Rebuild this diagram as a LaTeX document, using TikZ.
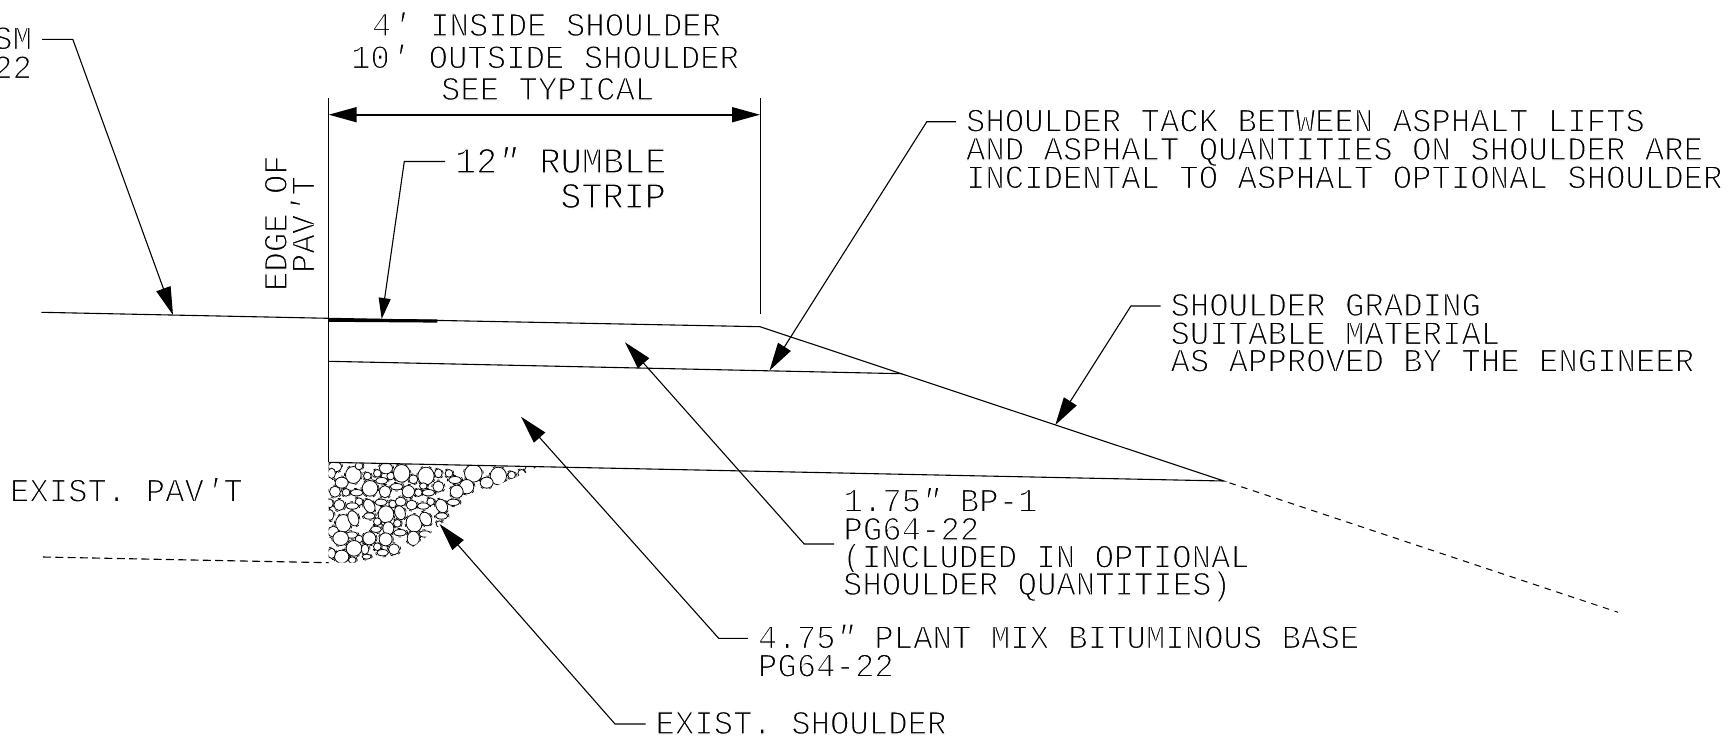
\documentclass[tikz,border=0pt]{standalone}
\usepackage{fontspec}
\setmainfont[FakeStretch=0.965]{Liberation Mono}
\usetikzlibrary{arrows.meta,calc}
\newcommand{\thinglyphs}{\special{pdf:code 2 Tr 1 1 1 RG 1.1 w}}
\newcommand{\ftp}{{\itshape ′}}
\newcommand{\inch}{{\itshape ″}}
\tikzset{
  lbl/.style={font=\fontsize{33.5}{33.5}\selectfont,inner sep=0pt,outer xsep=10pt,text height=20pt,text depth=0pt,anchor=base west,execute at begin node=\thinglyphs},
  biglbl/.style={lbl,font=\fontsize{36.5}{36.5}\selectfont,text height=23pt},
  rotlbl/.style={lbl,outer xsep=0pt,rotate=90},
  thinline/.style={line width=1.1pt,black},
  extline/.style={line width=0.9pt,black},
  dimline/.style={line width=1.6pt,black,{Triangle[length=28pt,width=15pt]}-{Triangle[length=28pt,width=15pt]}},
  leader/.style={line width=1.1pt,black,-{Triangle[length=28pt,width=15pt]}},
  shortleader/.style={leader,-{Triangle[length=21pt,width=12pt]}},
  gravel/.style={line width=0.8pt,black,fill=white},
  interstice/.style={line width=0.7pt,black,dash pattern=on 3pt off 6pt}
}
\newcommand{\stones}{75/50/18/14/0,130/75/22/24/0,172/78/10/10/0,147/48/10/10/0,202/70/10/10/0,242/78/10/10/0,228/55/18/15/0,275/70/23/25/0,310/88/12/12/0,348/78/23/25/0,385/70/10/12/0,417/70/10/10/0,435/90/18/9/0,490/70/25/25/0,565/78/23/25/0,605/75/10/10/0,635/70/10/10/0,660/60/15/12/0,530/98/18/15/0,470/110/20/20/0,440/125/18/18/0,385/110/15/15/0,355/128/18/8/0,325/128/10/10/0,295/125/17/17/0,260/110/18/8/0,225/125/15/17/0,180/115/22/22/0,140/128/18/8/0,108/127/10/10/0,75/125/15/15/0,95/98/18/15/0,65/70/10/14/0,215/92/17/8/0,340/108/10/8/0,147/155/10/10/0,127/168/18/8/0,178/168/14/20/30,213/157/17/8/0,248/162/10/10/0,272/155/15/12/0,305/165/15/13/0,340/168/17/8/0,362/155/10/10/0,395/168/15/20/30,430/157/18/8/0,88/165/15/15/0,60/160/8/12/0,100/220/22/25/0,130/205/14/22/20,60/195/10/15/0,70/245/15/15/0,228/193/22/24/0,270/188/14/20/20,178/198/16/8/0,202/215/10/10/0,235/235/15/18/0,262/220/10/10/0,312/220/22/25/20,347/207/15/20/30,395/198/17/8/0,388/222/8/8/0,198/238/15/8/0,178/265/18/18/0,125/255/17/8/0,147/267/10/10/0,92/265/22/20/0,132/295/22/22/0,227/268/18/18/0,270/248/18/8/0,310/265/17/20/0,345/252/17/8/0,202/290/10/10/0,165/298/10/14/0,218/308/16/8/0,252/298/15/15/0,95/320/20/18/0,127/330/10/8/0,65/310/10/14/0,170/320/12/6/0}
\begin{document}
\begin{tikzpicture}[x=1pt,y=-1pt]
\useasboundingbox (0,0) rectangle (1730,750);
% key points
\coordinate (roadL) at (41.4,312.3);
\coordinate (edgeTop) at (328.7,98.3);
\coordinate (edgeRoad) at (328.7,318.3);
\coordinate (edgeMid) at (328.7,361.3);
\coordinate (edgeLow) at (328.7,462.3);
\coordinate (rightTop) at (760,98.3);
\coordinate (rightEnd) at (760,314.3);
\coordinate (hinge) at (760,326.7);
\coordinate (midEnd) at (902,373.7);
\coordinate (toe) at (1224,481);
\coordinate (slopeEnd) at (1618,612.3);
\coordinate (dashL) at (43,557);
\coordinate (dashR) at (328.7,562.7);
\coordinate (dimL) at (328.7,114.7);
\coordinate (dimR) at (760,114.7);
\coordinate (stripE) at (437.4,321);
\coordinate (stripW) at (328.7,320.2);
% gravel
\begin{scope}
\clip (328.5,462.8) -- (538,466.7) .. controls (512,480) and (482,490) .. (467,501.7) .. controls (455,512) and (447,520) .. (438,526.7) .. controls (425,538) and (415,546) .. (405,552) .. controls (390,558) and (375,562) .. (357,562.5) -- (328.5,562.5) -- cycle;
\foreach \x/\y/\a/\b/\r in \stones
  \draw[interstice] (310+\x/3,450+\y/3) ellipse [x radius={(\a+5)*0.3333pt},y radius={(\b+5)*0.3333pt},rotate=\r];
\foreach \x/\y/\a/\b/\r in \stones
  \draw[gravel] (310+\x/3,450+\y/3) ellipse [x radius={(\a+1.5)*0.3333pt},y radius={(\b+1.5)*0.3333pt},rotate=\r];
\end{scope}
% structure lines
\draw[thinline] (roadL) -- (edgeRoad) -- (hinge) -- (toe) -- (edgeLow);
\draw[extline] (edgeLow) -- (edgeTop);
\draw[thinline] (edgeMid) -- (midEnd);
\draw[extline] (rightTop) -- (rightEnd);
\draw[line width=3.2pt] (stripW) -- (stripE);
\draw[line width=1pt,dash pattern=on 6.5pt off 5.8pt,dash phase=6.5pt] (toe) -- (slopeEnd);
\draw[line width=1.1pt,dash pattern=on 8pt off 4.3pt] (dashL) -- (dashR);
\draw[dimline] (dimL) -- (dimR);
% labels
\node[lbl,anchor=base east] (sm) at (42,49.3) {SM};
\node[lbl,anchor=base east] at (42,78.3) {22};
\node[lbl] at (362,36) {4\ftp{} INSIDE SHOULDER};
\node[lbl] at (341,68.3) {10\ftp{} OUTSIDE SHOULDER};
\node[lbl] at (431,100) {SEE TYPICAL};
\node[biglbl] (rumble) at (445,173) {12\inch{} RUMBLE};
\node[biglbl,anchor=base east] at (676,208) {STRIP};
\node[rotlbl] at (286.8,291) {EDGE OF};
\node[rotlbl] at (314.4,273) {PAV\ftp{}T};
\node[lbl] (tack) at (956,131.7) {SHOULDER TACK BETWEEN ASPHALT LIFTS};
\node[lbl] at (956,160) {AND ASPHALT QUANTITIES ON SHOULDER ARE};
\node[lbl] at (956,188.3) {INCIDENTAL TO ASPHALT OPTIONAL SHOULDER};
\node[lbl] (grade) at (1160.5,316) {SHOULDER GRADING};
\node[lbl] at (1160.5,344.3) {SUITABLE MATERIAL};
\node[lbl] at (1160.5,371.7) {AS APPROVED BY THE ENGINEER};
\node[lbl] at (0,501.7) {EXIST. PAV\ftp{}T};
\node[lbl] at (833.5,511.7) {1.75\inch{} BP-1};
\node[lbl] (bp) at (833.5,540) {PG64-22};
\node[lbl] at (832.5,567.7) {(INCLUDED IN OPTIONAL};
\node[lbl] at (833,595) {SHOULDER QUANTITIES)};
\node[lbl] (base) at (748,648.3) {4.75\inch{} PLANT MIX BITUMINOUS BASE};
\node[lbl] at (748,676.7) {PG64-22};
\node[lbl] (exist) at (645.5,734) {EXIST. SHOULDER};
% leader points
\coordinate (aKnee) at (72.8,40);   \coordinate (aTip) at (173,315);
\coordinate (rKnee) at (404.3,161.3); \coordinate (rTip) at (381.7,319);
\coordinate (tKnee) at (926.8,120.3); \coordinate (tTip) at (769.5,370.5);
\coordinate (gKnee) at (1130.9,305.3); \coordinate (gTip) at (1055.3,425);
\coordinate (bStart) at (834,544); \coordinate (bKnee) at (804.2,544); \coordinate (bTip) at (625,342.3);
\coordinate (cKnee) at (718.7,638); \coordinate (cTip) at (521,416.7);
\coordinate (eKnee) at (615,724); \coordinate (eTip) at (439.6,524);
\draw[leader] (sm.east) -- (sm.east -| aKnee) -- (aTip);
\draw[shortleader] (rumble.west) -- (rumble.west -| rKnee) -- (rTip);
\draw[leader] (tack.west) -- (tack.west -| tKnee) -- (tTip);
\draw[leader] (grade.west) -- (grade.west -| gKnee) -- (gTip);
\draw[leader] (bStart) -- (bKnee) -- (bTip);
\draw[leader] (base.west) -- (base.west -| cKnee) -- (cTip);
\draw[leader] (exist.west) -- (exist.west -| eKnee) -- (eTip);
\end{tikzpicture}
\end{document}
